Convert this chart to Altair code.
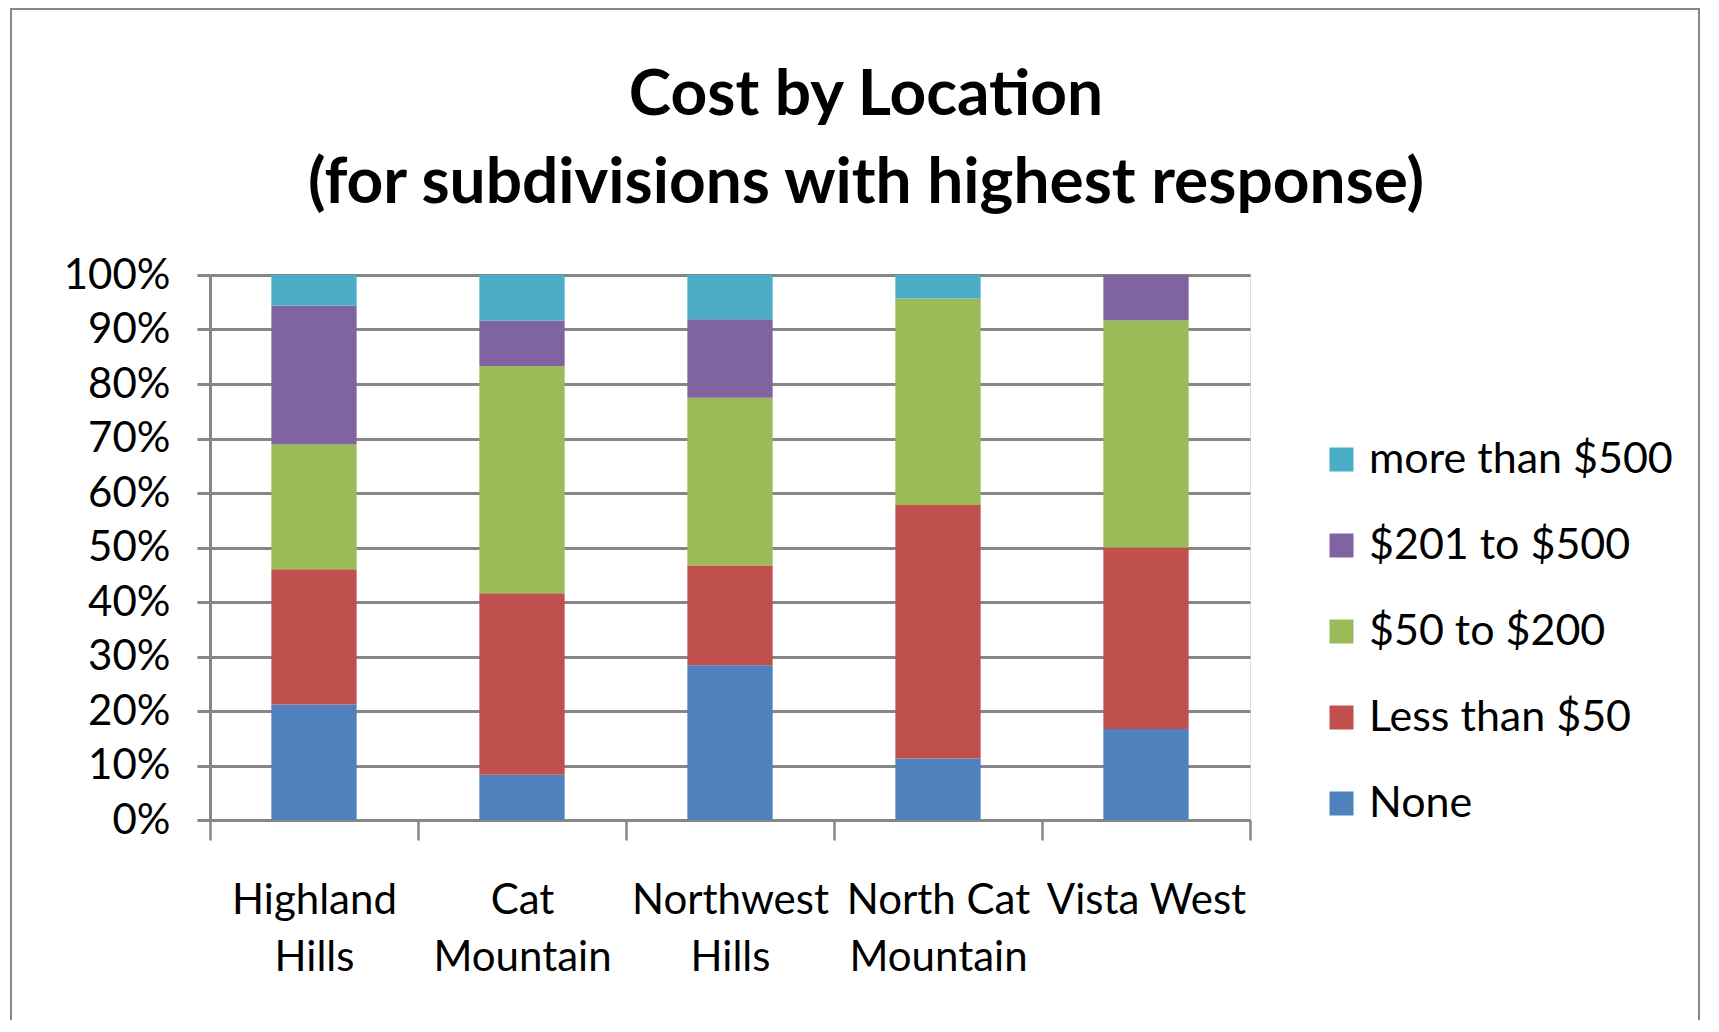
import json
import altair as alt
import pandas as pd

LOCATIONS = ["Highland Hills", "Cat Mountain", "Northwest Hills", "North Cat Mountain", "Vista West"]
LABEL_LINES = [["Highland", "Hills"], ["Cat", "Mountain"], ["Northwest", "Hills"],
               ["North Cat", "Mountain"], ["Vista West"]]
CATEGORIES = ["None", "Less than $50", "$50 to $200", "$201 to $500", "more than $500"]
COLORS = ["#4F81BD", "#C0504D", "#9BBB59", "#8064A2", "#4BACC6"]

NONE = [21.2, 8.3, 28.4, 11.3, 16.7]
LESS_50 = [24.8, 33.3, 18.3, 46.5, 33.3]
FROM_50_TO_200 = [22.9, 41.7, 30.8, 37.9, 41.7]
FROM_201_TO_500 = [25.5, 8.3, 14.4, 0.0, 8.3]
MORE_500 = [5.6, 8.4, 8.1, 4.3, 0.0]

SERIES = [NONE, LESS_50, FROM_50_TO_200, FROM_201_TO_500, MORE_500]

rows = []
for ci, (cat, vals) in enumerate(zip(CATEGORIES, SERIES)):
    for loc, v in zip(LOCATIONS, vals):
        rows.append({"location": loc, "cost": cat, "value": v, "rank": ci})
df = pd.DataFrame(rows)

label_map = json.dumps({loc: lines for loc, lines in zip(LOCATIONS, LABEL_LINES)})

FONT = "Lato"
GRAY = "#868686"

bars = alt.Chart(df).mark_bar(width=alt.RelativeBandSize(0.41)).encode(
    x=alt.X("location:N", sort=LOCATIONS,
            scale=alt.Scale(paddingInner=0, paddingOuter=0),
            axis=alt.Axis(title=None, labelAngle=0, tickBand="extent", ticks=True,
                          tickSize=20, tickColor=GRAY, tickWidth=2.5,
                          domainColor=GRAY, domainWidth=3,
                          labelExpr=label_map + "[datum.value]",
                          labelFontSize=42, labelFont=FONT, labelColor="black",
                          labelLineHeight=57, labelBaseline="top", labelPadding=40,
                          labelAlign="center", labelLimit=600)),
    y=alt.Y("value:Q", stack="normalize",
            scale=alt.Scale(domain=[0, 1]),
            axis=alt.Axis(title=None, values=[i / 10 for i in range(11)], format=".0%",
                          grid=True, gridColor=GRAY, gridWidth=3,
                          tickSize=13, tickColor=GRAY, tickWidth=3,
                          domainColor=GRAY, domainWidth=3,
                          labelFontSize=42, labelFont=FONT, labelColor="black",
                          labelPadding=27)),
    color=alt.Color("cost:N",
                    scale=alt.Scale(domain=CATEGORIES[::-1], range=COLORS[::-1]),
                    legend=alt.Legend(title=None, orient="none", legendX=1110, legendY=163,
                                      direction="vertical", symbolType="square",
                                      symbolSize=576, symbolStrokeWidth=0,
                                      labelFontSize=43, labelFont=FONT, labelColor="black",
                                      labelOffset=6, rowPadding=42, padding=0,
                                      labelLimit=600)),
    order=alt.Order("rank:Q", sort="ascending"),
)

frame = alt.Chart(pd.DataFrame({"k": [0]})).mark_rect(
    fillOpacity=0, stroke="#878787", strokeWidth=2
).encode(
    x=alt.value(-199), x2=alt.value(1489), y=alt.value(-266), y2=alt.value(800)
)

chart = alt.layer(frame, bars).properties(
    width=1040,
    height=545,
    autosize=alt.AutoSizeParams(type="none"),
    padding={"left": 202, "top": 267, "right": 451, "bottom": 200},
    title=alt.TitleParams(
        text=["Cost by Location", "(for subdivisions with highest response)"],
        fontSize=64, font=FONT, fontWeight="bold", color="black",
        lineHeight=88, anchor="middle", dx=136, offset=-208,
    ),
).configure_view(stroke=None).configure(background="white")

chart.save("out.html", embed_options={"renderer": "svg", "actions": False})
